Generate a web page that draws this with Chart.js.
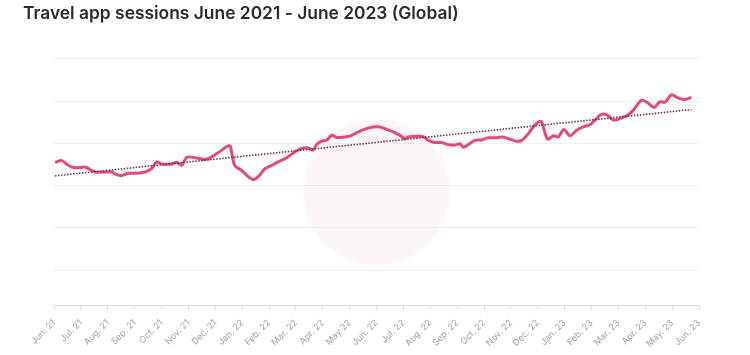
<!DOCTYPE html>
<html>
<head>
<meta charset="utf-8">
<script src="https://cdn.jsdelivr.net/npm/chart.js@4.4.1/dist/chart.umd.min.js"></script>
<style>
  html, body { margin: 0; padding: 0; background: #ffffff; }
  #wrap { width: 750px; height: 355px; position: relative; }
</style>
</head>
<body>
<div id="wrap"><canvas id="c" width="750" height="355"></canvas></div>
<script>
// Month tick labels (x = 0 .. 24)
const monthLabels = [
  "Jun. 21","Jul. 21","Aug. 21","Sep. 21","Oct. 21","Nov. 21","Dec. 21",
  "Jan. 22","Feb. 22","Mar. 22","Apr. 22","May 22","Jun. 22","Jul. 22",
  "Aug. 22","Sep. 22","Oct. 22","Nov. 22","Dec. 22","Jan. 23","Feb. 23",
  "Mar. 23","Apr. 23","May. 23","Jun. 23"
];

// Position of each observation, in months since June 2021
const monthPos = [
  0.04,0.29,0.53,0.78,1.15,1.34,1.53,1.90,2.15,2.33,2.52,2.76,3.01,3.39,3.63,3.82,
  4.01,4.38,4.56,4.75,4.94,5.25,5.62,5.87,6.18,6.42,6.55,6.63,6.73,6.98,7.23,7.41,
  7.60,7.85,8.10,8.34,8.66,8.97,9.22,9.46,9.65,9.77,9.96,10.15,10.33,10.52,10.83,11.08,
  11.32,11.69,12.06,12.31,12.62,12.87,13.06,13.18,13.55,13.74,13.93,14.17,14.42,14.67,
  14.92,15.10,15.23,15.41,15.66,15.91,16.16,16.41,16.66,16.90,17.21,17.40,17.65,17.89,
  18.12,18.24,18.37,18.58,18.76,18.97,19.20,19.45,19.69,19.94,20.13,20.35,20.56,20.81,
  21.06,21.31,21.55,21.86,22.05,22.33,22.54,22.75,22.98,23.23,23.47,23.72
];

// Sessions index (relative units, one per observation)
const sessions = [
  2.55,2.59,2.48,2.42,2.44,2.38,2.32,2.32,2.32,2.26,2.24,2.29,2.29,2.32,2.40,2.56,
  2.51,2.51,2.55,2.48,2.67,2.66,2.62,2.68,2.81,2.92,2.94,2.72,2.47,2.36,2.21,2.14,
  2.21,2.40,2.48,2.56,2.66,2.80,2.88,2.89,2.84,2.97,3.05,3.08,3.19,3.14,3.15,3.19,
  3.27,3.36,3.39,3.35,3.27,3.19,3.11,3.15,3.17,3.16,3.07,3.02,3.02,2.97,
  2.96,2.99,2.91,2.97,3.07,3.08,3.13,3.13,3.15,3.11,3.05,3.07,3.23,3.43,
  3.52,3.31,3.10,3.18,3.15,3.33,3.18,3.31,3.39,3.44,3.55,3.68,3.68,3.55,
  3.59,3.65,3.78,4.02,3.98,3.85,3.98,3.98,4.15,4.07,4.04,4.09
];

// Linear trend line end points
const trendPos = [0.04, 23.72];
const trendVals = [2.23, 3.80];

const mainData = monthPos.map((m, i) => ({ x: m, y: sessions[i] }));
const trendData = trendPos.map((m, i) => ({ x: m, y: trendVals[i] }));

const watermark = {
  id: 'watermark',
  beforeDatasetsDraw(chart) {
    const ctx = chart.ctx;
    const a = chart.chartArea;
    const cx = (a.left + a.right) / 2;
    const cy = (a.top + a.bottom) / 2 + 10;
    ctx.save();
    ctx.beginPath();
    ctx.arc(cx, cy, 73, 0, Math.PI * 2);
    ctx.fillStyle = 'rgba(238, 212, 222, 0.2)';
    ctx.fill();
    ctx.restore();
  }
};

new Chart(document.getElementById('c'), {
  type: 'line',
  data: {
    datasets: [
      {
        label: 'Trend',
        data: trendData,
        borderColor: '#6e2f4a',
        borderWidth: 1.6,
        borderDash: [1.5, 1.5],
        pointRadius: 0,
        tension: 0,
        fill: false,
        order: 0
      },
      {
        label: 'Sessions',
        data: mainData,
        borderColor: '#e2497c',
        borderWidth: 3,
        pointRadius: 0,
        tension: 0.3,
        fill: false,
        order: 1
      }
    ]
  },
  plugins: [watermark],
  options: {
    responsive: false,
    animation: false,
    devicePixelRatio: 1,
    layout: { padding: { left: 23, right: 51, top: 0, bottom: 0 } },
    plugins: {
      legend: { display: false },
      tooltip: { enabled: false },
      title: {
        display: true,
        text: 'Travel app sessions June 2021 - June 2023 (Global)',
        align: 'start',
        color: '#2b2b2b',
        font: { family: 'Inter', size: 17.4, weight: '600' },
        padding: { top: 3, bottom: 35 }
      }
    },
    scales: {
      x: {
        type: 'linear',
        min: 0,
        max: 24,
        afterFit(scale) { scale.height = 49.5; },
        grid: { drawOnChartArea: false, drawTicks: true, tickLength: 4, color: '#dedede' },
        border: { display: true, color: '#dcdcdc', width: 1 },
        ticks: {
          stepSize: 1,
          autoSkip: false,
          maxRotation: 45,
          minRotation: 45,
          padding: 8,
          color: '#a0a0a0',
          font: { family: 'Inter', size: 9 },
          callback: (v) => monthLabels[v] !== undefined ? monthLabels[v] : ''
        }
      },
      y: {
        min: -0.84,
        max: 5,
        afterFit(scale) { scale.width = 31; },
        grid: { color: '#efefef', drawTicks: false },
        border: { display: false },
        ticks: { display: false, stepSize: 1 }
      }
    }
  }
});
</script>
</body>
</html>
